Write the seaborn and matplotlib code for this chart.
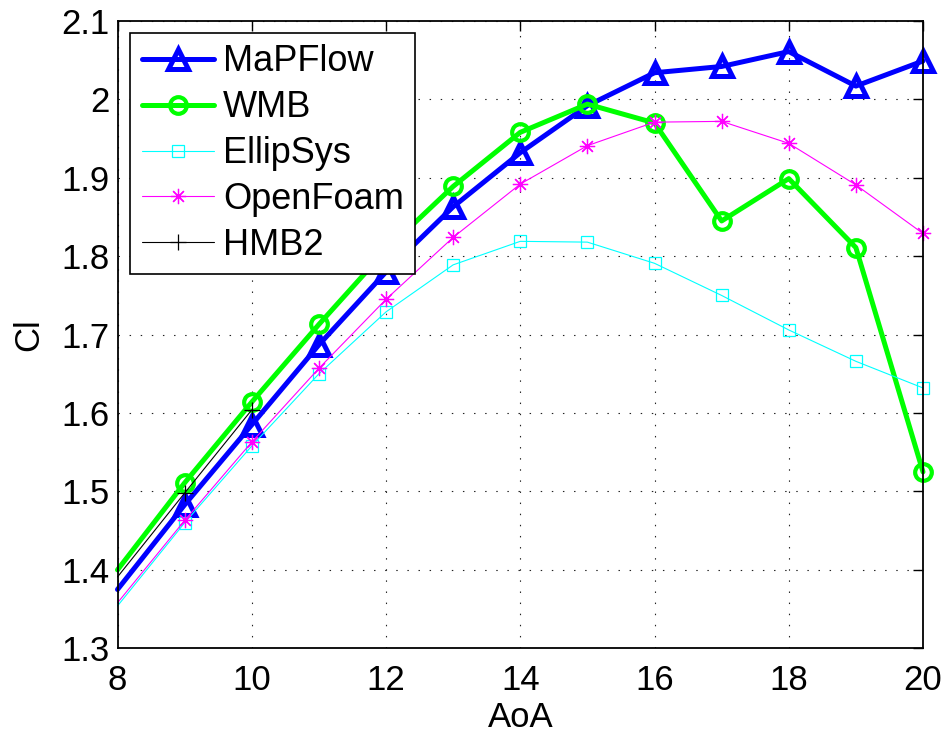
import matplotlib
matplotlib.use("Agg")
import matplotlib.pyplot as plt
import seaborn as sns

# Lift coefficient vs angle of attack for several solvers
aoa = [8, 9, 10, 11, 12, 13, 14, 15, 16, 17, 18, 19, 20]
mapflow = [1.375, 1.483, 1.585, 1.687, 1.780, 1.863, 1.932, 1.992, 2.034, 2.042, 2.061, 2.017, 2.049]
wmb = [1.400, 1.511, 1.614, 1.713, 1.808, 1.889, 1.958, 1.994, 1.970, 1.845, 1.899, 1.811, 1.525]
ellipsys = [1.354, 1.460, 1.558, 1.650, 1.729, 1.789, 1.819, 1.818, 1.791, 1.750, 1.706, 1.666, 1.632]
openfoam = [1.358, 1.463, 1.563, 1.657, 1.745, 1.824, 1.892, 1.941, 1.971, 1.972, 1.944, 1.891, 1.829]
hmb2_aoa = [8, 9, 10]
hmb2 = [1.391, 1.498, 1.604]

x_ticks = [8, 10, 12, 14, 16, 18, 20]
y_ticks = [1.3, 1.4, 1.5, 1.6, 1.7, 1.8, 1.9, 2.0, 2.1]
y_tick_labels = ["1.3", "1.4", "1.5", "1.6", "1.7", "1.8", "1.9", "2", "2.1"]

sns.set_style("white")
plt.rcParams["font.family"] = ["Liberation Sans", "DejaVu Sans"]
plt.rcParams.update({
    "text.color": "black",
    "axes.labelcolor": "black",
    "xtick.color": "black",
    "ytick.color": "black",
})

fig = plt.figure(figsize=(9.43, 7.34), dpi=100)
ax = fig.add_axes([117.5 / 943, 1 - 648.3 / 734, (923 - 117.5) / 943, (648.3 - 21) / 734])

asterisk = (8, 2, 0)

series = [
    (aoa, mapflow, "MaPFlow", "#0000ff", 3.6, "^", 14, 3.6),
    (aoa, wmb, "WMB", "#00ff00", 3.6, "o", 12, 3.0),
    (aoa, ellipsys, "EllipSys", "#00ffff", 0.8, "s", 8.5, 0.9),
    (aoa, openfoam, "OpenFoam", "#ff00ff", 0.8, asterisk, 11, 0.9),
    (hmb2_aoa, hmb2, "HMB2", "#000000", 0.8, "+", 12, 0.9),
]

for xs, ys, name, col, lw, mk, ms, mew in series:
    # the first sample sits on the left axis edge and carries no marker
    sns.lineplot(
        x=xs, y=ys, ax=ax, label=name, color=col, linewidth=lw,
        marker=mk, markersize=ms, markeredgewidth=mew,
        markeredgecolor=col, markerfacecolor="none",
        markevery=slice(1, None),
        errorbar=None, sort=False, clip_on=False,
    )

ax.set_xlim(8, 20)
ax.set_ylim(1.3, 2.1)
ax.set_xticks(x_ticks)
ax.set_xticklabels([str(t) for t in x_ticks])
ax.set_yticks(y_ticks)
ax.set_yticklabels(y_tick_labels)

ax.grid(True, color="#222222", linestyle=(0, (1.3, 8.7)), linewidth=0.8)
ax.tick_params(direction="in", length=7, width=1, labelsize=25, color="black",
               labelcolor="black", top=True, right=True)
ax.tick_params(axis="x", pad=11)
ax.tick_params(axis="y", pad=5.5)
for sp in ax.spines.values():
    sp.set_visible(True)
    sp.set_color("black")
    sp.set_linewidth(1.3)

ax.set_xlabel("AoA", fontsize=25, labelpad=3)
ax.set_ylabel("Cl", fontsize=25, labelpad=12)

leg = ax.legend(loc="upper left", bbox_to_anchor=(0.0155, 0.981), fontsize=26,
                frameon=True, fancybox=False, edgecolor="black", framealpha=1,
                numpoints=1, handlelength=2.0, handletextpad=0.25,
                labelspacing=0.3, borderpad=0.32, borderaxespad=0.0)
leg.get_frame().set_linewidth(1.2)
for t in leg.get_texts():
    t.set_color("black")

fig.savefig("out.png", dpi=100)
